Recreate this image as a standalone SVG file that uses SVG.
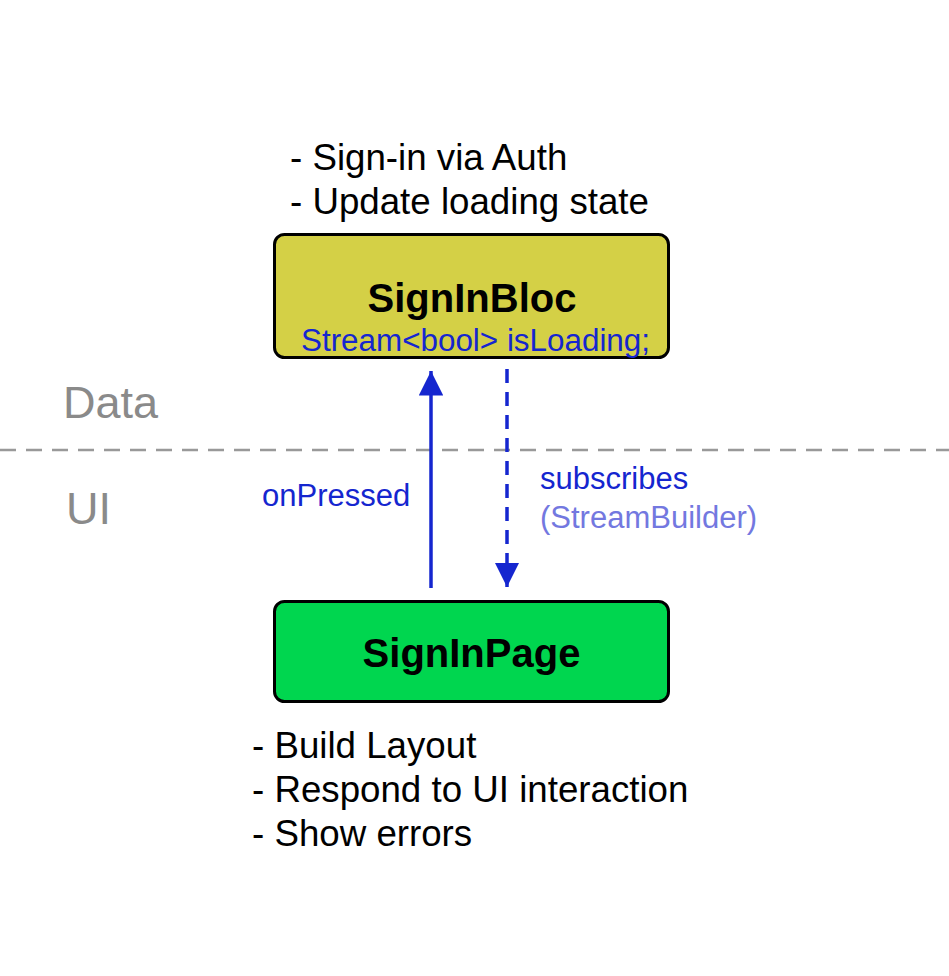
<svg xmlns="http://www.w3.org/2000/svg" width="949" height="976" viewBox="0 0 949 976">
<style>
text{font-family:"Liberation Sans",Arial,sans-serif}
.note{font-size:36.7px;fill:#000}
.title{font-size:40px;font-weight:bold;fill:#000}
.lbl{font-size:31px;fill:#1526cf}
.lite{font-size:31px;fill:#7378e0}
.layer{font-size:45px;fill:#8a8a8a}
.box{stroke:#000;stroke-width:3}
.conn{stroke:#1526cf;stroke-width:3.5;fill:none}
</style>
<defs>
<marker id="ah" markerWidth="7" markerHeight="7" refX="7" refY="3.5" orient="auto" markerUnits="strokeWidth"><path d="M0,0 L7,3.5 L0,7 Z" fill="#1526cf"/></marker>
</defs>
<rect width="949" height="976" fill="#fff"/>
<line x1="0" y1="450" x2="949" y2="450" stroke="#999" stroke-width="2.5" stroke-dasharray="16,10"/>
<text class="layer" x="63" y="418">Data</text>
<text class="layer" x="66" y="524">UI</text>
<g id="connectors">
<line class="conn" x1="431" y1="588" x2="431" y2="371" marker-end="url(#ah)"/>
<line class="conn" x1="507" y1="369" x2="507" y2="587" stroke-dasharray="14,9" marker-end="url(#ah)"/>
<text class="lbl" x="262" y="506">onPressed</text>
<text class="lbl" x="540" y="489">subscribes</text>
<text class="lite" x="540" y="528">(StreamBuilder)</text>
</g>
<g id="signinbloc">
<rect class="box" x="274.5" y="234.5" width="394" height="123" rx="10" fill="#d4d046"/>
<text class="title" x="472" y="312" text-anchor="middle">SignInBloc</text>
<text class="lbl" x="475.5" y="351" text-anchor="middle" textLength="349" lengthAdjust="spacingAndGlyphs">Stream&lt;bool&gt; isLoading;</text>
</g>
<g id="signinbloc-notes">
<text class="note" x="290" y="170">- Sign-in via Auth</text>
<text class="note" x="290" y="214">- Update loading state</text>
</g>
<g id="signinpage">
<rect class="box" x="274.5" y="601.5" width="394" height="100" rx="10" fill="#00d64f"/>
<text class="title" x="471.5" y="667" text-anchor="middle">SignInPage</text>
</g>
<g id="signinpage-notes">
<text class="note" x="252" y="758">- Build Layout</text>
<text class="note" x="252" y="802">- Respond to UI interaction</text>
<text class="note" x="252" y="846">- Show errors</text>
</g>
</svg>
